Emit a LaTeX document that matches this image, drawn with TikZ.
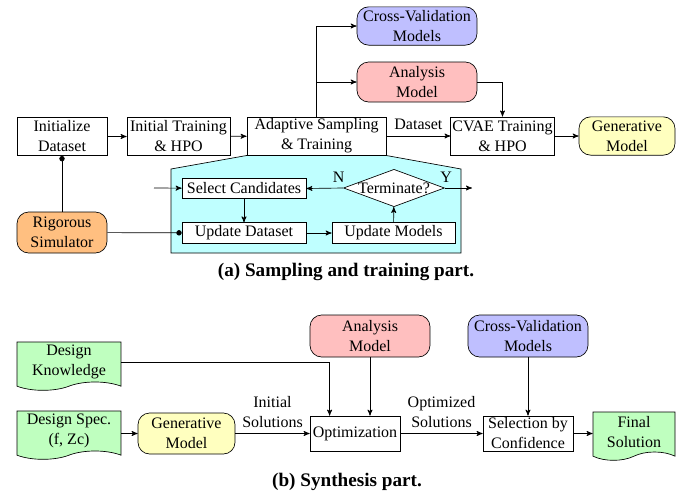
\documentclass[tikz,border=0pt]{standalone}
\usepackage{fontspec}
\setmainfont{Liberation Serif}
\usetikzlibrary{arrows}
\usetikzlibrary{arrows.meta}
\usetikzlibrary{calc}
\usetikzlibrary{shapes.geometric,shapes.symbols}
\usepackage{xcolor}
\definecolor{loopcyan}{RGB}{191,255,255}
\definecolor{cvblue}{RGB}{191,191,255}
\definecolor{anapink}{RGB}{255,191,191}
\definecolor{genyellow}{RGB}{255,255,191}
\definecolor{docgreen}{RGB}{191,255,191}
\definecolor{simorange}{RGB}{255,191,128}

\tikzset{
  box/.style={draw, fill=white, align=center, inner sep=1pt, minimum height=23pt},
  smallbox/.style={draw, fill=white, inner sep=1pt, minimum height=12.3pt, minimum width=74.4pt},
  model/.style={draw, align=center, rounded corners=7pt, inner sep=1pt, minimum width=72pt, minimum height=23pt},
  paper/.style={draw, tape, tape bend top=none, fill=docgreen, align=center, inner sep=1pt, minimum width=62.4pt, minimum height=29pt},
  decide/.style={draw, diamond, fill=white, aspect=2.7, inner sep=0pt},
  flow/.style={->, >=stealth'},
  probe/.style={-{Circle[length=3.2pt]}},
  caption/.style={font=\fontsize{11.5}{13}\selectfont\bfseries}
}

\begin{document}
\begin{tikzpicture}[x=0.6pt, y=-0.6pt, font=\fontsize{9.6}{12}\selectfont]
  \useasboundingbox (0,0) rectangle (700,493);

  % (a) Top row
  \node[box, minimum width=54pt] (init) at (62,136.5) {Initialize\\Dataset};
  \node[box, minimum width=61.8pt] (initTrain) at (178.5,136.5) {Initial Training\\\& HPO};
  \node[box, minimum width=83.4pt] (adapt) at (316.5,136) {Adaptive Sampling\\\& Training};
  \node[model, fill=cvblue] (cv) at (417,26) {Cross-Validation\\Models};
  \node[model, fill=anapink, minimum height=24pt] (ana) at (417,82) {Analysis\\Model};
  \node[box, minimum width=61.8pt] (cvae) at (502.5,136) {CVAE Training\\\& HPO};
  \node[model, fill=genyellow, minimum width=57.6pt] (gen) at (627,136) {Generative\\Model};
  \node[model, fill=simorange, minimum width=54pt, minimum height=24.6pt] (sim) at (62,232.5) {Rigorous\\Simulator};

  \draw[flow] (init) -- (initTrain);
  \draw[flow] (initTrain) -- (adapt);
  \draw[flow] (adapt.north) |- (cv.west);
  \draw[flow] (adapt.north) |- (ana.west);
  \draw[flow] (ana.east) -| (cvae.north);
  \draw[flow] (adapt) -- node[above] {Dataset} (cvae);
  \draw[flow] (cvae) -- (gen);

  % Sampling loop
  \draw[fill=loopcyan] (171,169) -- (adapt.south west) -- (adapt.south east)
    -- (461,169) -- (461,253) -- (171,253) -- cycle;
  \node[smallbox] (sel) at (244,188.5) {Select Candidates};
  \node[smallbox] (upd) at (244,233) {Update Dataset};
  \node[smallbox, minimum width=73.8pt] (updm) at (393.5,233) {Update Models};
  \node[decide] (term) at (394,188) {Terminate?};
  \coordinate (loopIn) at (154,188);
  \coordinate (loopOut) at (472,188);

  \draw[flow] (loopIn) -- (sel);
  \draw[flow] (sel) -- (upd);
  \draw[flow] (upd) -- (updm);
  \draw[flow] (updm) -- (term);
  \draw[flow] (term.west) -- node[pos=0.12, above] {N} (sel.east);
  \draw[flow] (term.east) -- node[pos=0.05, above] {Y} (loopOut);

  \draw[probe] (sim) -- (init);
  \draw[probe] (sim) -- (upd);

  \node[caption] (capA) at (346,272) {(a) Sampling and training part.};

  % (b) Synthesis
  \node[paper] (know) at (69,362) {Design\\Knowledge};
  \node[paper] (spec) at (69,431) {Design Spec.\\(f, Zc)};
  \node[model, fill=genyellow, minimum width=58.2pt, minimum height=24.6pt] (gen2) at (186.5,433.5) {Generative\\Model};
  \node[box, minimum width=54pt, minimum height=21pt] (opt) at (355,433.5) {Optimization};
  \node[model, fill=anapink, minimum height=25.2pt] (ana2) at (370,336) {Analysis\\Model};
  \node[model, fill=cvblue, minimum height=25.2pt] (cv2) at (528,336) {Cross-Validation\\Models};
  \node[box, minimum width=54pt, minimum height=21pt] (selc) at (528,433.5) {Selection by\\Confidence};
  \node[paper, minimum width=49.2pt] (fin) at (634,432) {Final\\Solution};

  \draw[flow] (spec.east |- gen2) -- (gen2);
  \draw[flow] (gen2) -- node[above, align=center] {Initial\\Solutions} (opt);
  \draw[flow] (know.east) -| ($(opt.north west)!0.22!(opt.north east)$);
  \draw[flow] (ana2) -- (ana2 |- opt.north);
  \draw[flow] (opt) -- node[above, align=center] {Optimized\\Solutions} (selc);
  \draw[flow] (cv2) -- (selc);
  \draw[flow] (selc) -- (selc -| fin.west);

  \node[caption] (capB) at (347,482) {(b) Synthesis part.};
\end{tikzpicture}
\end{document}
